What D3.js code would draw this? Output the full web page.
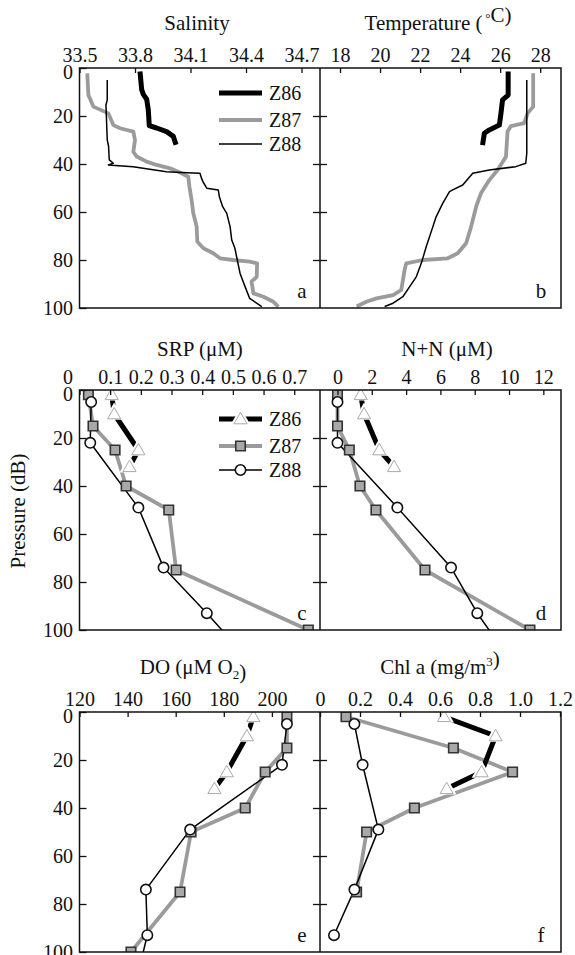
<!DOCTYPE html>
<html><head><meta charset="utf-8">
<script src="https://cdn.jsdelivr.net/npm/d3@7"></script>
<style>
body{margin:0;background:#fff;}
svg{display:block;}
text{font-family:"Liberation Serif","Times New Roman","DejaVu Serif",serif;fill:#111;}
</style>
</head><body>
<svg id="chart" width="575" height="955"></svg>
<script>
// ---------------- DATA ----------------
const seriesNames = ["Z86", "Z87", "Z88"];
const pressureTicks = [0, 20, 40, 60, 80, 100];

// CTD profiles (pressure dB, value)
const salZ86P = [1.5, 9, 11, 13, 17.5, 24, 25, 26.5, 28.5, 32];
const salZ86V = [33.827, 33.836, 33.845, 33.863, 33.872, 33.877, 33.917, 33.971, 34.007, 34.022];
const salZ87P = [2.2, 11.3, 13.3, 16.1, 18.9, 23.8, 25.1, 26.5, 30, 34.9, 36.9, 39, 40.4, 41.8, 43.9, 45.3, 49.4, 55, 60.5, 66, 72.4, 75.1, 77.2, 79.3, 80, 80.7, 81.4, 87, 89, 93.9, 95.3, 97.4, 99.4];
const salZ87V = [33.542, 33.548, 33.56, 33.575, 33.656, 33.683, 33.719, 33.791, 33.80, 33.791, 33.809, 33.863, 33.917, 33.989, 34.052, 34.088, 34.094, 34.106, 34.115, 34.133, 34.137, 34.17, 34.223, 34.26, 34.33, 34.42, 34.46, 34.458, 34.43, 34.44, 34.494, 34.548, 34.575];
const salZ88P = [5, 13.3, 15.4, 30, 32.5, 38.3, 39.7, 40.4, 41.1, 42.2, 43.2, 43.6, 43.9, 46, 47.5, 50.1, 50.8, 53.6, 57.8, 60.6, 66.1, 71.7, 75.1, 80, 85.6, 91.1, 96, 99.4];
const salZ88V = [33.65, 33.65, 33.643, 33.65, 33.657, 33.661, 33.683, 33.656, 33.79, 33.88, 33.97, 34.08, 34.151, 34.16, 34.168, 34.188, 34.25, 34.256, 34.274, 34.296, 34.314, 34.323, 34.34, 34.353, 34.368, 34.395, 34.42, 34.485];

const tmpZ86P = [1.5, 11.3, 13.3, 18.9, 23.8, 25.8, 27.2, 32.1];
const tmpZ86V = [26.40, 26.40, 26.12, 26.04, 25.96, 25.46, 25.21, 25.12];
const tmpZ87P = [2.2, 16.1, 18.9, 23, 24.2, 26.5, 37, 42.5, 46.7, 52.2, 57.8, 66.1, 73, 77.2, 79.3, 80, 81.4, 84, 92.5, 94.6, 96, 97.4, 99.4];
const tmpZ87V = [27.65, 27.65, 27.37, 27.2, 26.54, 26.37, 26.29, 25.87, 25.46, 25.04, 24.8, 24.55, 24.3, 23.88, 23.38, 22.14, 21.31, 21.23, 21.06, 20.65, 19.82, 19.32, 18.83];
const tmpZ88P = [5, 35.5, 39.7, 41.1, 42.5, 43.9, 48.75, 50.8, 51.5, 56.4, 62, 66.1, 74.4, 81.4, 87, 91.1, 95.3, 98, 99.4];
const tmpZ88V = [27.33, 27.33, 27.28, 26.78, 25.46, 24.63, 24.13, 23.63, 23.47, 23.13, 22.8, 22.64, 22.31, 22.06, 21.81, 21.48, 21.14, 20.65, 20.23];

// Bottle samples
const botZ86P = [2, 10, 25, 32];
const botZ87P = [2, 15, 25, 40, 50, 75, 100];
const botZ88P = [5, 22, 49, 74, 93, 125];

const srpZ86 = [0.105, 0.113, 0.192, 0.163];
const srpZ87 = [0.029, 0.044, 0.116, 0.152, 0.291, 0.315, 0.746];
const srpZ88 = [0.038, 0.035, 0.192, 0.274, 0.415, 0.64];

const nnZ86 = [1.35, 1.55, 2.44, 3.3];
const nnZ87 = [0.0, 0.0, 0.69, 1.31, 2.24, 5.1, 11.22];
const nnZ88 = [0.0, 0.0, 3.49, 6.62, 8.15, 11.3];

const doZ86 = [192.3, 189.6, 181.25, 176.1];
const doZ87 = [206.25, 206.25, 197.2, 188.9, 166.4, 161.8, 141.4];
const doZ88 = [206.25, 204.2, 166.0, 147.6, 148.2, 140.4];

const chlZ86 = [0.62, 0.878, 0.808, 0.633];
const chlZ87 = [0.13, 0.667, 0.963, 0.472, 0.233, 0.183];
const chlZ88 = [0.172, 0.213, 0.292, 0.172, 0.07];

// Axis ticks
const salTicks = [33.5, 33.8, 34.1, 34.4, 34.7];
const tmpTicks = [18, 20, 22, 24, 26, 28];
const srpTicks = [0, 0.1, 0.2, 0.3, 0.4, 0.5, 0.6, 0.7];
const nnTicks = [0, 2, 4, 6, 8, 10, 12];
const doTicks = [120, 140, 160, 180, 200];
const chlTicks = [0, 0.2, 0.4, 0.6, 0.8, 1.0, 1.2];

// ---------------- LAYOUT ----------------
const svg = d3.select("#chart");
const L = 79.5, M = 320, R = 561;
const rows = [{top: 68, bot: 308, title: 30}, {top: 390, bot: 630, title: 356}, {top: 712, bot: 952, title: 674}];
const GRAY = "#9b9b9b";
const FONT = "Liberation Serif, Times New Roman, DejaVu Serif, serif";
const zip = (P, V) => P.map((p, i) => ({p, v: V[i]}));

const fmt1 = d => d === 0 ? "0" : d3.format(".1f")(d);

const panels = [
  {row: 0, side: 0, domain: [33.5, 34.8], ticks: salTicks, fmt: d3.format(".1f"), title: ["Salinity"], tx: 197, letter: "a", shift: {0: -4},
   lines: [{d: zip(salZ86P, salZ86V), s: "Z86"}, {d: zip(salZ87P, salZ87V), s: "Z87"}, {d: zip(salZ88P, salZ88V), s: "Z88"}], markers: false, legend: [93, 120, 144]},
  {row: 0, side: 1, domain: [17, 29.04], ticks: tmpTicks, fmt: d3.format("d"), title: ["Temperature (", {sup: "\u2009\u00B0"}, "C)"], tx: 438, letter: "b",
   lines: [{d: zip(tmpZ86P, tmpZ86V), s: "Z86"}, {d: zip(tmpZ87P, tmpZ87V), s: "Z87"}, {d: zip(tmpZ88P, tmpZ88V), s: "Z88"}], markers: false},
  {row: 1, side: 0, domain: [0, 0.784], ticks: srpTicks, fmt: fmt1, title: ["SRP (\u03BCM)"], tx: 200, letter: "c", shift: {0: -12},
   lines: [{d: zip(botZ86P, srpZ86), s: "Z86"}, {d: zip(botZ87P, srpZ87), s: "Z87"}, {d: zip(botZ88P, srpZ88), s: "Z88"}], markers: true, legend: [419, 446, 470]},
  {row: 1, side: 1, domain: [-1.02, 13.03], ticks: nnTicks, fmt: d3.format("d"), title: ["N+N (\u03BCM)"], tx: 447, letter: "d",
   lines: [{d: zip(botZ86P, nnZ86), s: "Z86"}, {d: zip(botZ87P, nnZ87), s: "Z87"}, {d: zip(botZ88P, nnZ88), s: "Z88"}], markers: true},
  {row: 2, side: 0, domain: [120, 220], ticks: doTicks, fmt: d3.format("d"), title: ["DO (\u03BCM O", {sub: "2"}, ")"], tx: 193, letter: "e",
   lines: [{d: zip(botZ86P, doZ86), s: "Z86"}, {d: zip(botZ87P, doZ87), s: "Z87"}, {d: zip(botZ88P, doZ88), s: "Z88"}], markers: true},
  {row: 2, side: 1, domain: [0, 1.205], ticks: chlTicks, fmt: fmt1, title: ["Chl a (mg/m", {sup: "3"}, ")"], tx: 440, letter: "f",
   lines: [{d: zip(botZ86P, chlZ86), s: "Z86"}, {d: zip(botZ87P.slice(0, 6), chlZ87), s: "Z87"}, {d: zip(botZ88P.slice(0, 5), chlZ88), s: "Z88"}], markers: true}
];

const lineStyle = {
  Z86: {stroke: "#000", width: 5},
  Z87: {stroke: GRAY, width: 3.8},
  Z88: {stroke: "#000", width: 1.5}
};

const sym = {
  Z86: d3.symbol().type(d3.symbolTriangle).size(75),
  Z87: d3.symbol().type(d3.symbolSquare).size(90),
  Z88: d3.symbol().type(d3.symbolCircle).size(85)
};

function drawMarker(g, s, x, y) {
  if (s === "Z86") {
    g.append("path").attr("d", d3.symbol().type(d3.symbolTriangle).size(170)()).attr("transform", `translate(${x},${y})`).attr("fill", "#fff");
    g.append("path").attr("d", sym.Z86()).attr("transform", `translate(${x},${y + 1})`).attr("fill", "#fff").attr("stroke", "#aaa").attr("stroke-width", 1);
  } else if (s === "Z87") {
    g.append("path").attr("d", sym.Z87()).attr("transform", `translate(${x},${y})`).attr("fill", "#a8a8a8").attr("stroke", "#333").attr("stroke-width", 1.6);
  } else {
    g.append("path").attr("d", sym.Z88()).attr("transform", `translate(${x},${y})`).attr("fill", "#fff").attr("stroke", "#111").attr("stroke-width", 1.6);
  }
}

panels.forEach((P, idx) => {
  const r = rows[P.row];
  const x0 = P.side === 0 ? L : M, x1 = P.side === 0 ? M : R;
  const xs = d3.scaleLinear().domain(P.domain).range([x0, x1]);
  const ys = d3.scaleLinear().domain([0, 100]).range([r.top, r.bot]);
  const g = svg.append("g");

  const cid = "clip" + idx;
  svg.append("clipPath").attr("id", cid).append("rect").attr("x", x0).attr("y", r.top).attr("width", x1 - x0).attr("height", r.bot - r.top);

  const lg = g.append("g").attr("clip-path", `url(#${cid})`);
  const line = d3.line().x(d => xs(d.v)).y(d => ys(d.p));
  const order = ["Z87", "Z88", "Z86"];
  order.forEach(s => {
    const ln = P.lines.find(l => l.s === s);
    lg.append("path").datum(ln.d).attr("d", line).attr("fill", "none")
      .attr("stroke", lineStyle[s].stroke).attr("stroke-width", lineStyle[s].width)
      .attr("stroke-linejoin", "round");
  });
  if (P.markers) {
    const mg = g.append("g").attr("clip-path", `url(#${cid})`);
    order.forEach(s => {
      const ln = P.lines.find(l => l.s === s);
      ln.d.filter(d => d.p <= 100).forEach(d => drawMarker(mg, s, xs(d.v), ys(d.p)));
    });
  }

  // top axis
  const ax = g.append("g").attr("transform", `translate(0,${r.top})`)
    .call(d3.axisTop(xs).tickValues(P.ticks).tickFormat(P.fmt).tickSize(-5).tickPadding(6.5));
  ax.attr("font-family", FONT);
  ax.select(".domain").remove();
  ax.selectAll(".tick line").attr("stroke", "#111").attr("stroke-width", 1.3);
  ax.selectAll("text").attr("font-size", 20).attr("fill", "#111");
  if (P.shift) {
    ax.selectAll(".tick text").attr("dx", d => (P.shift[d] !== undefined ? P.shift[d] : 0));
  }

  // y axis
  if (P.side === 0) {
    const ay = g.append("g").attr("transform", `translate(${L},0)`)
      .call(d3.axisLeft(ys).tickValues(pressureTicks).tickSize(-7).tickPadding(6.5));
    ay.attr("font-family", FONT);
    ay.select(".domain").remove();
    ay.selectAll(".tick line").attr("stroke", "#111").attr("stroke-width", 1.3);
    ay.selectAll("text").attr("font-size", 20).attr("fill", "#111").attr("dy", d => d === 0 ? "0.52em" : "0.34em");
  } else {
    const ay = g.append("g").attr("transform", `translate(${M + 7},0)`)
      .call(d3.axisLeft(ys).tickValues(pressureTicks.slice(1, 5)).tickSize(14).tickFormat(""));
    ay.select(".domain").remove();
    ay.selectAll(".tick line").attr("stroke", "#111").attr("stroke-width", 1.3);
  }

  // title
  const t = g.append("text").attr("x", P.tx).attr("y", r.title).attr("text-anchor", "middle").attr("font-size", 21);
  P.title.forEach(part => {
    if (typeof part === "string") t.append("tspan").text(part);
    else if (part.sup) { t.append("tspan").attr("font-size", 13).attr("dy", -8).text(part.sup); t.append("tspan").attr("dy", 8).text(""); }
    else if (part.sub) { t.append("tspan").attr("font-size", 13).attr("dy", 5).text(part.sub); t.append("tspan").attr("dy", -5).text(""); }
  });

  // panel letter
  g.append("text").attr("x", P.side === 0 ? 302 : 541).attr("y", r.bot - 10).attr("text-anchor", "middle").attr("font-size", 21).text(P.letter);

  // legend
  if (P.legend) {
    seriesNames.forEach((s, i) => {
      const y = P.legend[i];
      g.append("line").attr("x1", 219).attr("x2", 262).attr("y1", y).attr("y2", y)
        .attr("stroke", lineStyle[s].stroke).attr("stroke-width", lineStyle[s].width);
      if (P.markers) drawMarker(g, s, 240.5, y);
      g.append("text").attr("x", 269).attr("y", y).attr("dy", "0.36em").attr("font-size", 20).text(s);
    });
  }
});

// frames
rows.forEach(r => {
  svg.append("rect").attr("x", L).attr("y", r.top).attr("width", R - L).attr("height", r.bot - r.top)
    .attr("fill", "none").attr("stroke", "#111").attr("stroke-width", 1.5);
  svg.append("line").attr("x1", M).attr("x2", M).attr("y1", r.top).attr("y2", r.bot)
    .attr("stroke", "#111").attr("stroke-width", 1.5);
});

// y axis label
svg.append("text").attr("transform", "translate(25,511) rotate(-90)").attr("text-anchor", "middle")
  .attr("font-size", 21).text("Pressure (dB)");
</script>
</body></html>
